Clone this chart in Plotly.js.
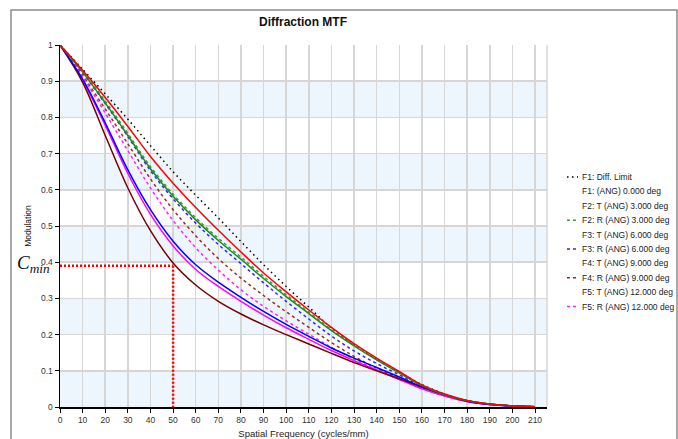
<!DOCTYPE html>
<html>
<head>
<meta charset="utf-8">
<script src="https://cdn.plot.ly/plotly-3.0.1.min.js"></script>
<style>
  html, body { margin: 0; padding: 0; background: #ffffff; }
  #chart { width: 678px; height: 439px; }
</style>
</head>
<body>
<div id="chart"></div>
<script>
// ---- data ----
const freq = [0,10,20,30,40,50,60,70,80,90,100,110,120,130,140,150,160,170,180,190,200,210];

const diffLimit = [1,0.933,0.865,0.795,0.722,0.65,0.585,0.522,0.457,0.393,0.333,0.276,0.218,0.172,0.131,0.096,0.062,0.036,0.018,0.008,0.003,0.001];
const f1Ang0    = [1,0.93,0.855,0.775,0.692,0.618,0.551,0.488,0.428,0.37,0.318,0.268,0.22,0.175,0.135,0.098,0.061,0.036,0.018,0.008,0.003,0.001];
const f2T3      = [1,0.925,0.84,0.75,0.658,0.582,0.517,0.46,0.408,0.355,0.305,0.258,0.211,0.169,0.13,0.094,0.059,0.034,0.017,0.008,0.003,0.001];
const f2R3      = [1,0.927,0.845,0.756,0.664,0.588,0.523,0.466,0.414,0.361,0.31,0.262,0.214,0.171,0.131,0.095,0.059,0.034,0.017,0.008,0.003,0.001];
const f3T6      = [1,0.906,0.785,0.655,0.545,0.458,0.393,0.345,0.303,0.264,0.228,0.195,0.163,0.135,0.109,0.083,0.056,0.034,0.016,0.007,0.003,0.001];
const f3R6      = [1,0.923,0.838,0.747,0.653,0.575,0.508,0.449,0.396,0.343,0.292,0.243,0.196,0.155,0.12,0.089,0.057,0.034,0.016,0.007,0.003,0.001];
const f4T9      = [1,0.897,0.75,0.605,0.487,0.398,0.337,0.292,0.257,0.227,0.2,0.174,0.148,0.123,0.1,0.078,0.055,0.034,0.017,0.008,0.003,0.001];
const f4R9      = [1,0.916,0.823,0.727,0.63,0.545,0.473,0.41,0.356,0.308,0.263,0.22,0.178,0.14,0.107,0.079,0.053,0.032,0.015,0.007,0.003,0.001];
const f5T12     = [1,0.902,0.778,0.645,0.532,0.445,0.38,0.333,0.292,0.254,0.219,0.187,0.156,0.128,0.102,0.076,0.05,0.03,0.015,0.007,0.003,0.001];
const f5R12     = [1,0.912,0.812,0.708,0.605,0.515,0.44,0.378,0.324,0.278,0.238,0.201,0.165,0.132,0.103,0.077,0.051,0.031,0.015,0.007,0.003,0.001];

const legendLabels = [
  "F1: Diff. Limit",
  "F1: (ANG) 0.000 deg",
  "F2: T (ANG) 3.000 deg",
  "F2: R (ANG) 3.000 deg",
  "F3: T (ANG) 6.000 deg",
  "F3: R (ANG) 6.000 deg",
  "F4: T (ANG) 9.000 deg",
  "F4: R (ANG) 9.000 deg",
  "F5: T (ANG) 12.000 deg",
  "F5: R (ANG) 12.000 deg"
];

const xTicks = [0,10,20,30,40,50,60,70,80,90,100,110,120,130,140,150,160,170,180,190,200,210];
const yTicks = [0,0.1,0.2,0.3,0.4,0.5,0.6,0.7,0.8,0.9,1];
const yTickText = ["0","0.1","0.2","0.3","0.4","0.5","0.6","0.7","0.8","0.9","1"];

const cminValue = 0.39;
const cminFreq = 50;

// ---- styles ----
const series = [
  {y: diffLimit, color: "#000000", dash: "1.5px,3.5px", legendSample: true},
  {y: f1Ang0,   color: "#ff0000", dash: "solid", legendSample: false},
  {y: f2T3,     color: "#1f8a1f", dash: "solid", legendSample: false},
  {y: f2R3,     color: "#3c9a3c", dash: "3px,3px", legendSample: true},
  {y: f3T6,     color: "#0000ff", dash: "solid", legendSample: false},
  {y: f3R6,     color: "#2a2aff", dash: "3px,3px", legendSample: true},
  {y: f4T9,     color: "#7a0000", dash: "solid", legendSample: false},
  {y: f4R9,     color: "#9a2a2a", dash: "3px,3px", legendSample: true},
  {y: f5T12,    color: "#ff00ff", dash: "solid", legendSample: false},
  {y: f5R12,    color: "#ff22ff", dash: "3px,3px", legendSample: true}
];

// draw order: dashed first, solids, red on top
const order = [0,3,5,7,9,8,6,4,2,1];
const traces = order.map(i => ({
  x: freq,
  y: series[i].y,
  type: "scatter",
  mode: "lines",
  name: legendLabels[i],
  line: {color: series[i].color, width: 1.5, dash: series[i].dash, shape: "spline", smoothing: 1},
  showlegend: false,
  hoverinfo: "x+y+name"
}));

// plot geometry (pixels)
const L = 60, R = 547, T = 45, B = 407;
const pw = R - L, ph = B - T;
const px = p => (p - L) / pw;
const py = p => (B - p) / ph;

const shapes = [];
// alternating light-blue bands
for (let k = 0; k < 10; k += 2) {
  shapes.push({type: "rect", xref: "paper", yref: "y", x0: 0, x1: 1, y0: yTicks[k], y1: yTicks[k+1],
    fillcolor: "#eef6fd", line: {width: 0}, layer: "below"});
}
// right border of plot area
shapes.push({type: "line", xref: "paper", yref: "paper", x0: 1, x1: 1, y0: 0, y1: 1,
  line: {color: "#d6d6d6", width: 1.5}, layer: "below"});
// outer frame
shapes.push({type: "rect", xref: "paper", yref: "paper", x0: px(11), x1: px(677), y0: py(448), y1: py(10),
  line: {color: "#8c8c8c", width: 1.5}, fillcolor: "rgba(0,0,0,0)", layer: "below"});
// Cmin marker lines
shapes.push({type: "line", xref: "x", yref: "y", x0: 0, x1: cminFreq, y0: cminValue, y1: cminValue,
  line: {color: "#ff0000", width: 2.5, dash: "2px,2px"}});
shapes.push({type: "line", xref: "x", yref: "y", x0: cminFreq, x1: cminFreq, y0: cminValue, y1: 0,
  line: {color: "#ff0000", width: 2.5, dash: "2px,2px"}});

const annotations = [];
// legend
const legY0 = 177, legDy = 14.4;
legendLabels.forEach((lab, i) => {
  const yy = legY0 + i * legDy;
  annotations.push({xref: "paper", yref: "paper", x: px(580), y: py(yy), xanchor: "left", yanchor: "middle",
    text: lab, showarrow: false, font: {family: "Liberation Sans, Arial, sans-serif", size: 8.5, color: "#222222"}});
  if (series[i].legendSample) {
    shapes.push({type: "line", xref: "paper", yref: "paper", x0: px(567), x1: px(578), y0: py(yy), y1: py(yy),
      line: {color: series[i].color, width: 1.5, dash: series[i].dash}});
  }
});
// C_min label
annotations.push({xref: "paper", yref: "paper", x: px(15), y: py(264), xanchor: "left", yanchor: "middle",
  text: "<i>C</i><sub><i>min</i></sub>", showarrow: false,
  font: {family: "Liberation Serif, DejaVu Serif, serif", size: 19, color: "#111111"}});

const layout = {
  width: 678, height: 439,
  margin: {l: L, r: 678 - R, t: T, b: 439 - B, pad: 0},
  paper_bgcolor: "#ffffff",
  plot_bgcolor: "#ffffff",
  showlegend: false,
  title: {text: "<b>Diffraction MTF</b>", x: px(303), xref: "paper", y: 1 - 22/439, yref: "container",
    xanchor: "center", yanchor: "middle",
    font: {family: "Liberation Sans, Arial, sans-serif", size: 12, color: "#111111"}},
  xaxis: {
    range: [0, 215.3], tickvals: xTicks, ticktext: xTicks.map(String),
    showgrid: true, gridcolor: "#d6d6d6", gridwidth: 1.5,
    zeroline: false, showline: true, linecolor: "#000000", linewidth: 1.5,
    ticks: "outside", ticklen: 4, tickcolor: "#000000", tickwidth: 1,
    tickfont: {family: "Liberation Sans, Arial, sans-serif", size: 8.5, color: "#333333"},
    title: {text: "Spatial Frequency (cycles/mm)", standoff: 10,
      font: {family: "Liberation Sans, Arial, sans-serif", size: 9.5, color: "#222222"}},
    fixedrange: true
  },
  yaxis: {
    range: [0, 1], tickvals: yTicks, ticktext: yTickText,
    showgrid: true, gridcolor: "#d6d6d6", gridwidth: 1.5,
    zeroline: false, showline: true, linecolor: "#000000", linewidth: 1.5,
    ticks: "outside", ticklen: 4, tickcolor: "#000000", tickwidth: 1,
    tickfont: {family: "Liberation Sans, Arial, sans-serif", size: 8.5, color: "#333333"},
    title: {text: "Modulation", standoff: 8,
      font: {family: "Liberation Sans, Arial, sans-serif", size: 8.5, color: "#222222"}},
    fixedrange: true
  },
  shapes: shapes,
  annotations: annotations
};

Plotly.newPlot("chart", traces, layout, {staticPlot: true, displayModeBar: false});
</script>
</body>
</html>
